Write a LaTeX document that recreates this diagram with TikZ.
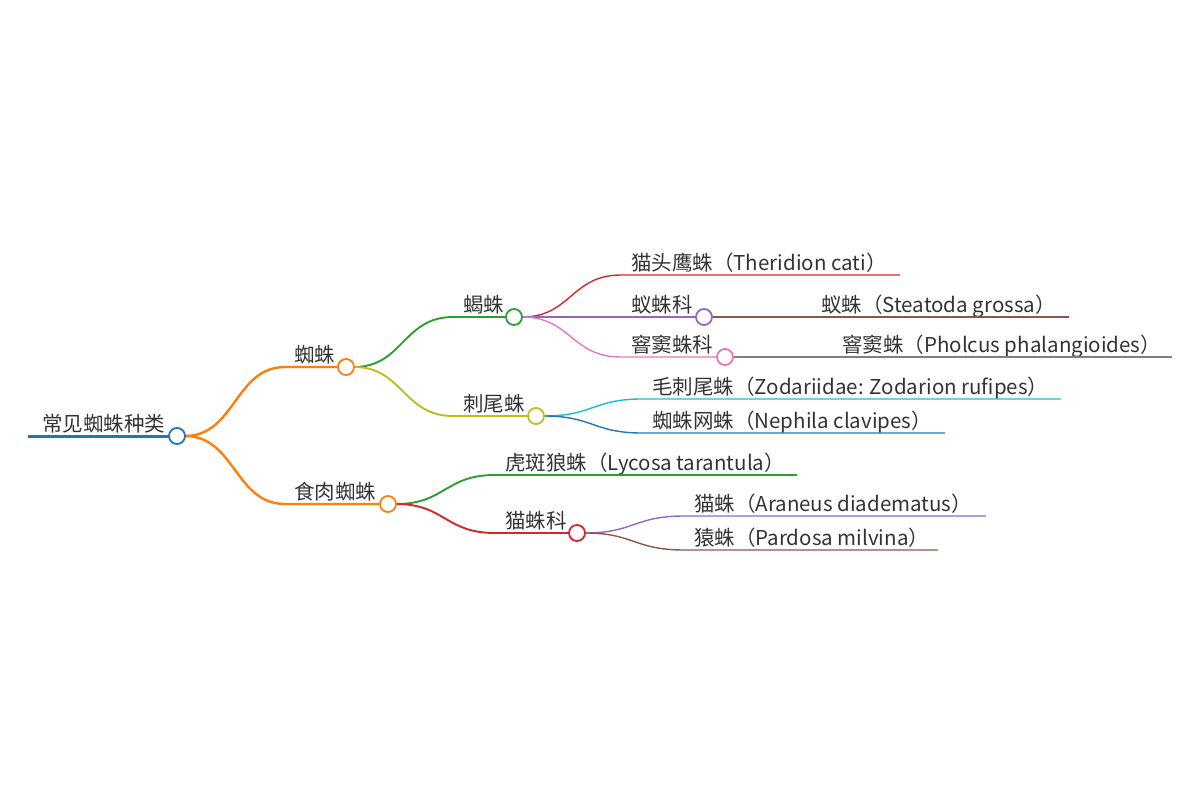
\documentclass[tikz,border=0pt]{standalone}
\usepackage{fontspec}
\setmainfont{Noto Sans CJK SC}
\definecolor{cblue}{HTML}{1F77B4}
\definecolor{corange}{HTML}{FF7F0E}
\definecolor{cgreen}{HTML}{2CA02C}
\definecolor{cred}{HTML}{D62728}
\definecolor{cpurple}{HTML}{9467BD}
\definecolor{cbrown}{HTML}{8C564B}
\definecolor{cpink}{HTML}{E377C2}
\definecolor{cgray}{HTML}{7F7F7F}
\definecolor{colive}{HTML}{BCBD22}
\definecolor{ccyan}{HTML}{17BECF}
\definecolor{ctext}{HTML}{333333}
\tikzset{
  dot/.style={circle, draw=#1, fill=white, line width=1.8pt, minimum size=16pt, inner sep=0pt},
  lbl/.style={anchor=base west, inner sep=0pt, font=\fontsize{20.5}{20.5}\selectfont, text=ctext, yshift=-2pt},
  lw0/.style={line width=3pt},
  lw1/.style={line width=2.4pt},
  lw2/.style={line width=1.9pt},
  lw3/.style={line width=1.4pt},
  lw4/.style={line width=1.2pt},
}
\begin{document}
\begin{tikzpicture}[x=1pt,y=-1pt]
\useasboundingbox (0,0) rectangle (1200,800);
% root
\coordinate (r0) at (28,436);
\node[lbl] (t0) at (42,429) {常见蜘蛛种类};
% level 1
\node[lbl] (tA) at (294,360) {蜘蛛};
\node[lbl] (tB) at (294,497) {食肉蜘蛛};
% level 2
\node[lbl] (tC) at (463,310) {蝎蛛};
\node[lbl] (tD) at (463,409) {刺尾蛛};
\node[lbl] (tE) at (505,468) {虎斑狼蛛（Lycosa tarantula）};
\node[lbl] (tF) at (505,526) {猫蛛科};
% level 3
\node[lbl] (tG) at (631,268) {猫头鹰蛛（Theridion cati）};
\node[lbl] (tH) at (631,310) {蚁蛛科};
\node[lbl] (tI) at (631,350) {窨窦蛛科};
\node[lbl] (tJ) at (652,392) {毛刺尾蛛（Zodariidae: Zodarion rufipes）};
\node[lbl] (tK) at (652,426) {蜘蛛网蛛（Nephila clavipes）};
\node[lbl] (tL) at (694,509) {猫蛛（Araneus diadematus）};
\node[lbl] (tM) at (694,543) {猿蛛（Pardosa milvina）};
% level 4
\node[lbl] (tN) at (821,310) {蚁蛛（Steatoda grossa）};
\node[lbl] (tO) at (842,350) {窨窦蛛（Pholcus phalangioides）};
% leaf ends
\coordinate (eE) at (797,475);
\coordinate (eG) at (900,275);
\coordinate (eJ) at (1061,399);
\coordinate (eK) at (945,433);
\coordinate (eL) at (986,516);
\coordinate (eM) at (938,550);
\coordinate (eN) at (1069,317);
\coordinate (eO) at (1172,357);
% circle centres
\coordinate (R) at (177,436);
\coordinate (A) at (346,367);
\coordinate (B) at (388,504);
\coordinate (C) at (514,317);
\coordinate (D) at (536,416);
\coordinate (F) at (577,533);
\coordinate (H) at (704,317);
\coordinate (I) at (725,357);
% connectors
\draw[cblue,lw0] (r0) -- (R);
\draw[corange,lw1] (R) ++(8,0) .. controls (235,436) and (235,367) .. (285,367) -- (A);
\draw[corange,lw1] (R) ++(8,0) .. controls (235,436) and (235,504) .. (285,504) -- (B);
\draw[cgreen,lw2] (A) ++(8,0) .. controls (403,367) and (403,317) .. (453,317) -- (C);
\draw[colive,lw2] (A) ++(8,0) .. controls (403,367) and (403,416) .. (453,416) -- (D);
\draw[cgreen,lw2] (B) ++(8,0) .. controls (445,504) and (445,475) .. (495,475) -- (eE);
\draw[cred,lw2] (B) ++(8,0) .. controls (445,504) and (445,533) .. (495,533) -- (F);
\draw[cred,lw3] (C) ++(8,0) .. controls (571,317) and (571,275) .. (621,275) -- (eG);
\draw[cpurple,lw3] (C) ++(8,0) -- (H);
\draw[cpink,lw3] (C) ++(8,0) .. controls (571,317) and (571,357) .. (621,357) -- (I);
\draw[ccyan,lw3] (D) ++(8,0) .. controls (593,416) and (593,399) .. (642,399) -- (eJ);
\draw[cblue,lw3] (D) ++(8,0) .. controls (593,416) and (593,433) .. (642,433) -- (eK);
\draw[cpurple,lw3] (F) ++(8,0) .. controls (634,533) and (634,516) .. (684,516) -- (eL);
\draw[cbrown,lw3] (F) ++(8,0) .. controls (634,533) and (634,550) .. (684,550) -- (eM);
\draw[cbrown,lw4] (H) -- (eN);
\draw[cgray,lw4] (I) -- (eO);
% circle nodes
\node[dot=cblue] (nR) at (R) {};
\node[dot=corange] (nA) at (A) {};
\node[dot=corange] (nB) at (B) {};
\node[dot=cgreen] (nC) at (C) {};
\node[dot=colive] (nD) at (D) {};
\node[dot=cred] (nF) at (F) {};
\node[dot=cpurple] (nH) at (H) {};
\node[dot=cpink] (nI) at (I) {};
\end{tikzpicture}
\end{document}
